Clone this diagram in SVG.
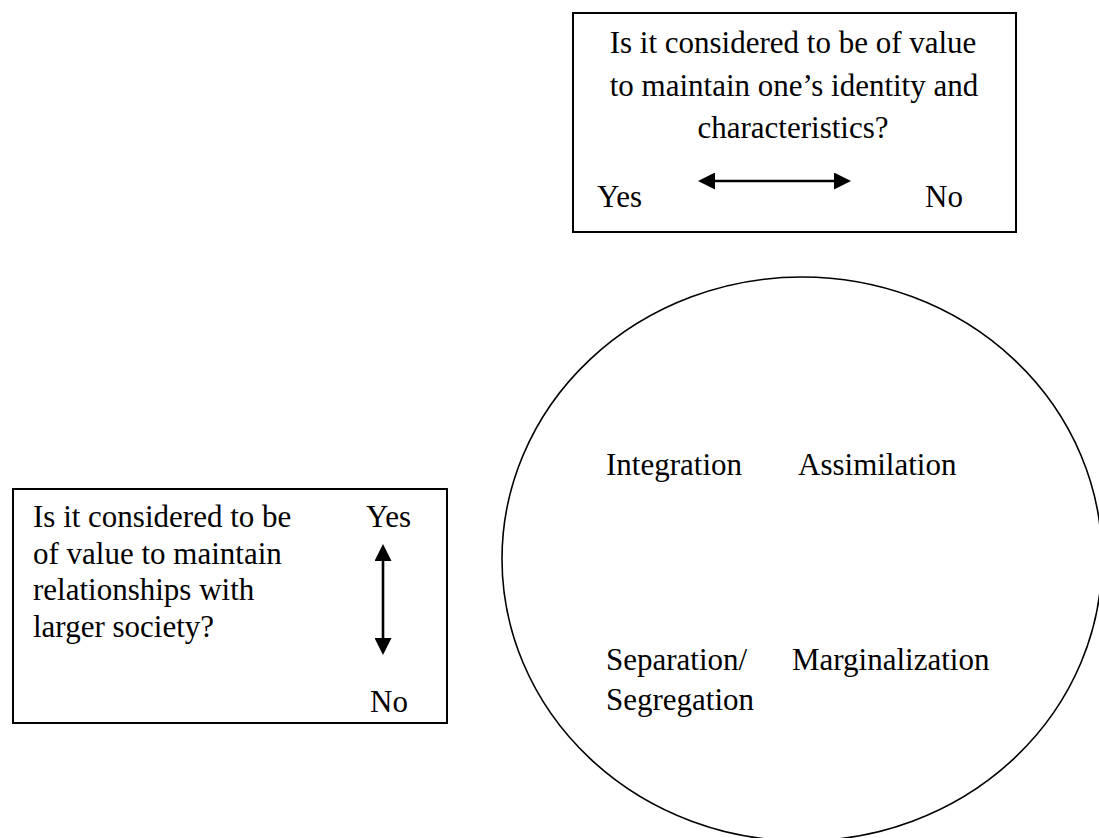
<svg xmlns="http://www.w3.org/2000/svg" width="1099" height="838" viewBox="0 0 1099 838">
<style>
  text { font-family: "Liberation Serif", "Times New Roman", serif; font-size: 31px; fill: #000; }
  .box { fill: #fff; stroke: #000; stroke-width: 2; }
  .circ { fill: none; stroke: #000; stroke-width: 1.6; }
  .arrow { stroke: #000; stroke-width: 2.6; fill: none; marker-start: url(#ah); marker-end: url(#ah); }
</style>
<defs>
  <marker id="ah" markerWidth="17" markerHeight="17" refX="1" refY="8.5" orient="auto-start-reverse" markerUnits="userSpaceOnUse" viewBox="0 0 17 17">
    <path d="M0,0 L17,8.5 L0,17 z" fill="#000"/>
  </marker>
</defs>
<rect width="1099" height="838" fill="#fff"/>

<g id="identity-box">
  <rect class="box" x="573" y="13" width="443" height="219"/>
  <text x="793" y="53" text-anchor="middle">Is it considered to be of value</text>
  <text x="794" y="95.5" text-anchor="middle">to maintain one’s identity and</text>
  <text x="793" y="137.5" text-anchor="middle">characteristics?</text>
  <text x="597" y="207">Yes</text>
  <text x="925" y="207">No</text>
</g>

<g id="relationship-box">
  <rect class="box" x="13" y="489" width="434" height="234"/>
  <text x="33" y="527">Is it considered to be</text>
  <text x="33" y="563.5">of value to maintain</text>
  <text x="33" y="600">relationships with</text>
  <text x="33" y="637">larger society?</text>
  <text x="366" y="527">Yes</text>
  <text x="370" y="712">No</text>
</g>

<g id="strategies-circle">
  <ellipse class="circ" cx="802" cy="559" rx="300" ry="282"/>
  <text x="606" y="475">Integration</text>
  <text x="798" y="475">Assimilation</text>
  <text x="606" y="670">Separation/</text>
  <text x="792" y="670">Marginalization</text>
  <text x="606" y="710">Segregation</text>
</g>

<g id="connectors">
  <line class="arrow" x1="714" y1="181" x2="835" y2="181"/>
  <line class="arrow" x1="383" y1="560" x2="383" y2="639"/>
</g>
</svg>
